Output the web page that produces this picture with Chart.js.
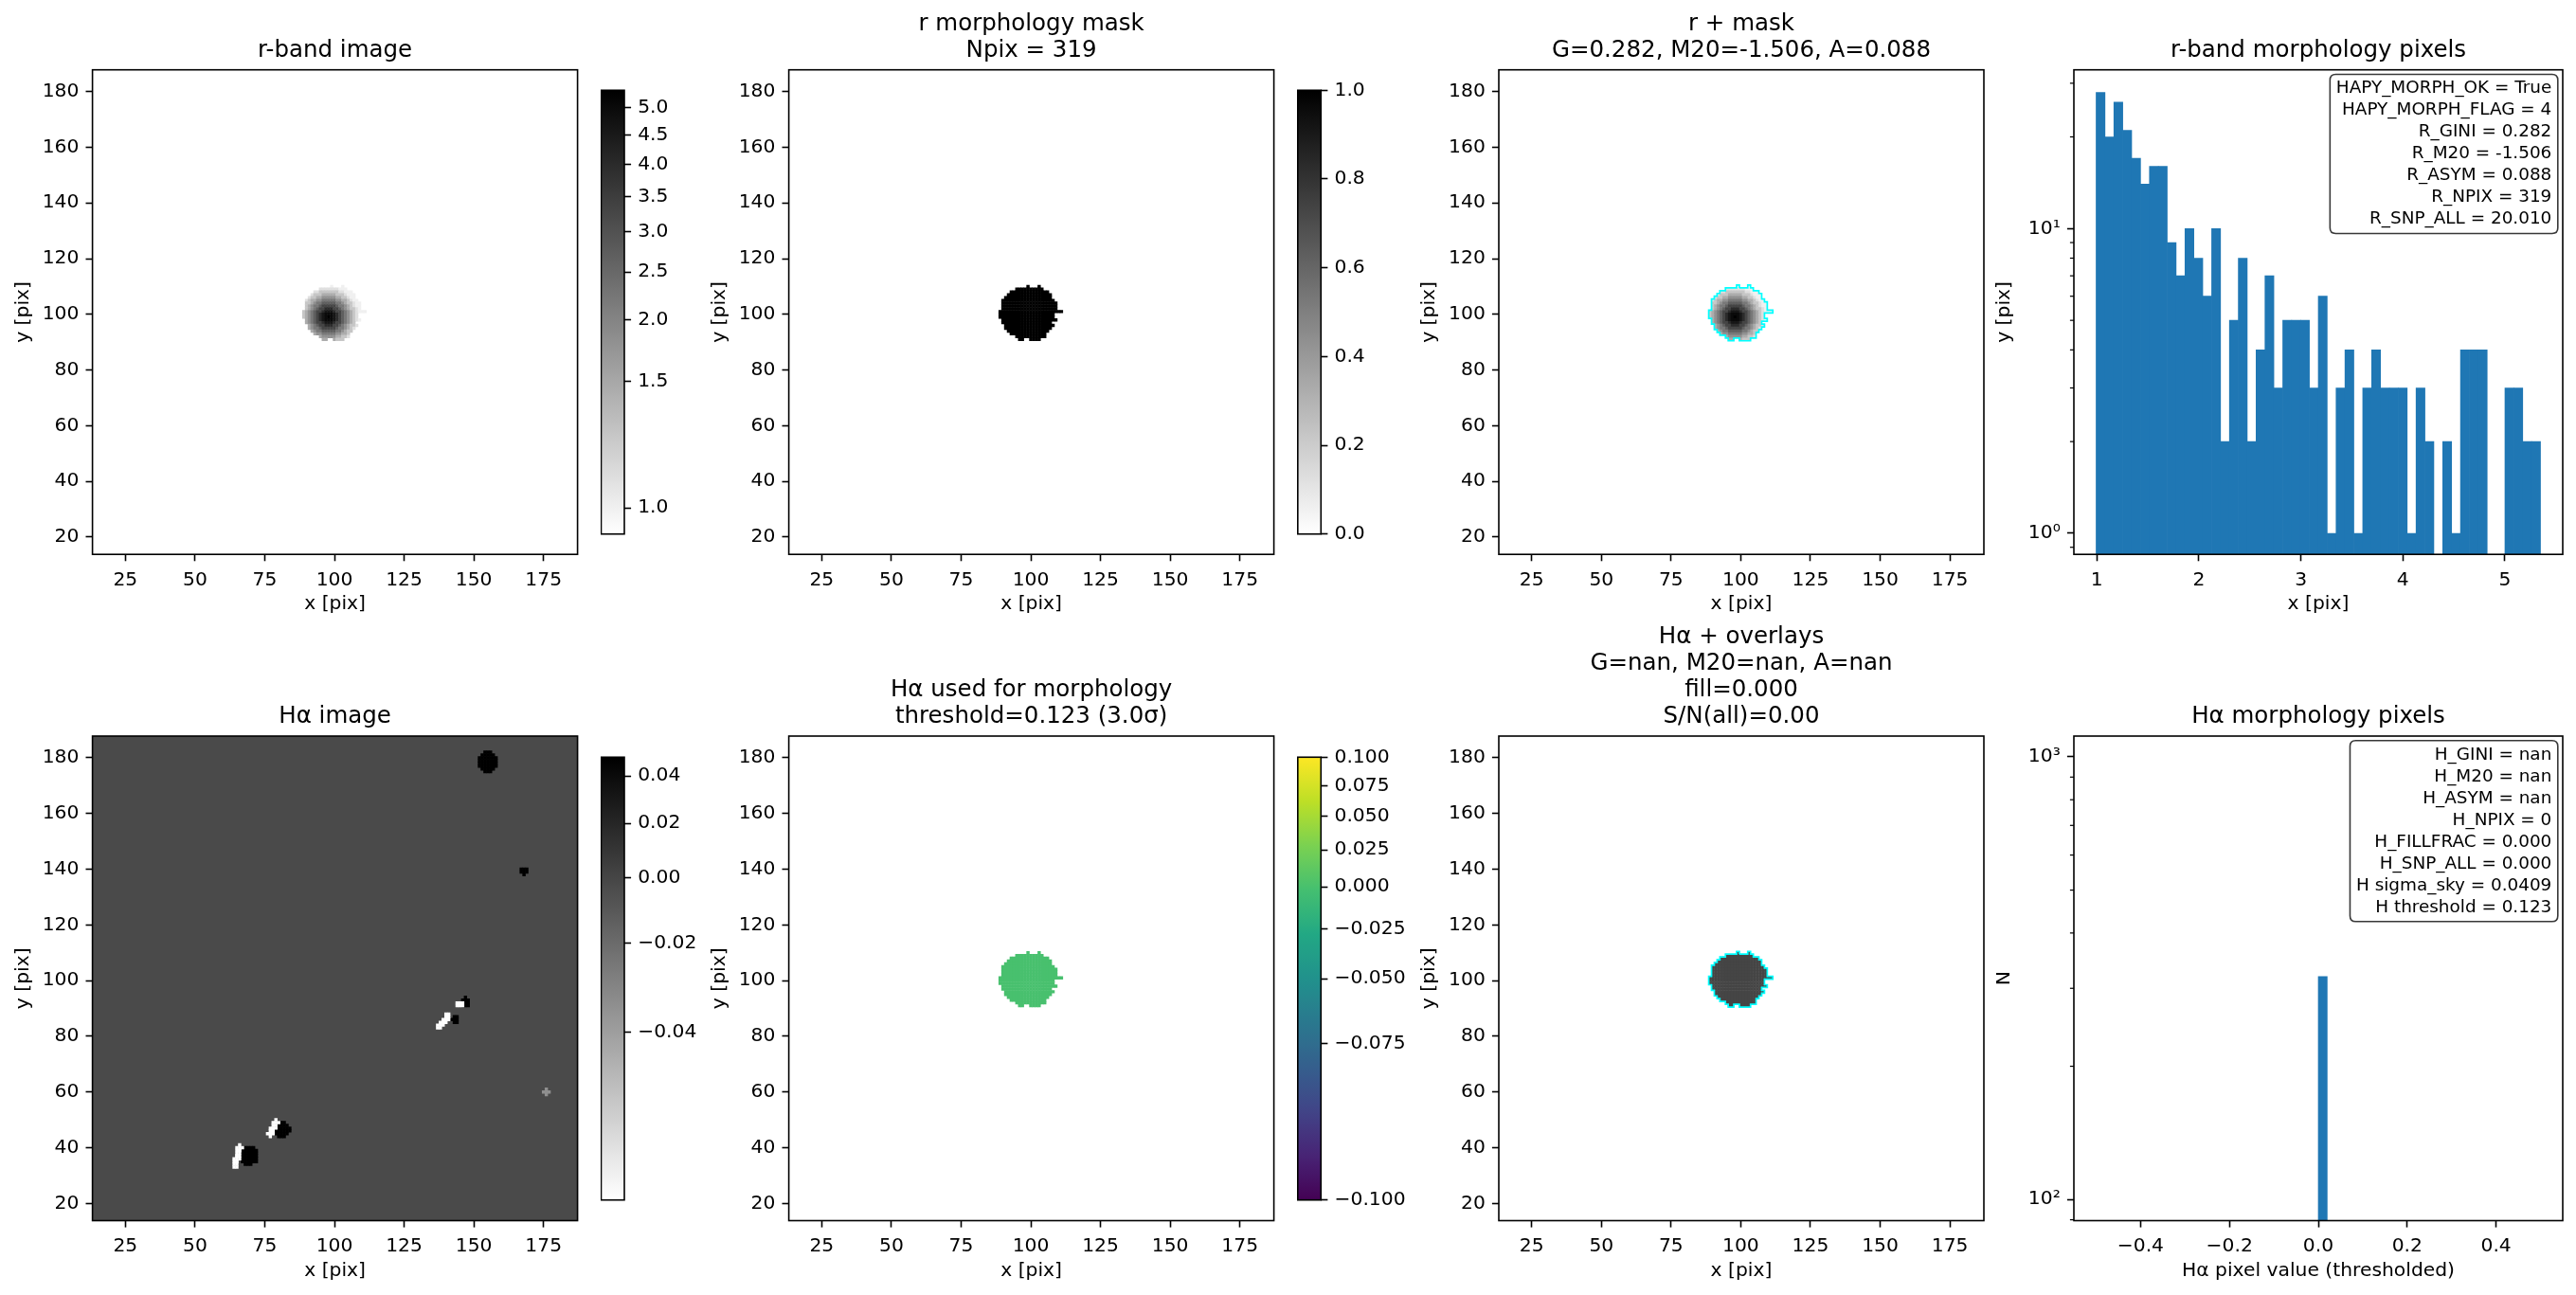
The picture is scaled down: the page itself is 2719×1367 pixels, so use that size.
<!DOCTYPE html>
<html><head><meta charset="utf-8">
<script src="https://cdn.jsdelivr.net/npm/chart.js@4.4.1/dist/chart.umd.min.js"></script>
<style>
html,body{margin:0;padding:0;background:#fff;}
body{width:2719px;height:1367px;position:relative;overflow:hidden;}
</style></head><body>
<script>
// ================= DATA =================
const imgXTicks = [25, 50, 75, 100, 125, 150, 175];
const imgYTicks = [20, 40, 60, 80, 100, 120, 140, 160, 180];
const imgXRange = [13.2, 187.2];
const imgYRange = [13.8, 187.8];

// r-band morphology mask as row spans (y, x0..x1), 319 pixels
const maskRowY  = [110,110,109,108,107,106,105,104,103,102,101,100, 99, 98, 97, 96, 95, 94, 93, 92, 91, 91];
const maskRowX0 = [ 99,103, 95, 93, 92, 91, 90, 90, 90, 90, 89, 89, 89, 90, 90, 91, 91, 92, 93, 95, 96,100];
const maskRowX1 = [ 99,103,104,106,107,107,108,109,109,109,111,108,108,109,107,108,107,106,105,105, 97,103];

// r-band radial profile (value per integer radius from the peak)
const rPeak = [98, 99];
const rProfile = [5.3, 5.0, 4.6, 4.0, 3.3, 2.7, 2.2, 1.8, 1.45, 1.2, 1.05, 1.0, 1.0, 1.0, 1.0];
const rVmin = 0.985, rVmax = 5.333;
const rCbTicks  = [1.0, 1.5, 2.0, 2.5, 3.0, 3.5, 4.0, 4.5, 5.0];
const rCbLabels = ['1.0','1.5','2.0','2.5','3.0','3.5','4.0','4.5','5.0'];

const maskValue = 1;
const maskCbTicks  = [0, 0.2, 0.4, 0.6, 0.8, 1.0];
const maskCbLabels = ['0.0','0.2','0.4','0.6','0.8','1.0'];

// Hα image: sky level + notable features (x, y, radius, value)
const haVmin = -0.0549, haVmax = 0.0486;
const haSkyLevel = -0.003;
const haBlobX = [155, 168, 69.3, 81.2, 147.0, 143.2, 66.0, 65.5, 65.0, 64.5, 79.0, 78.0, 77.0, 145.0, 140.5, 139.0, 137.5, 176.0];
const haBlobY = [178.5, 139.2, 37.3, 46.5, 92.3, 86.0, 40.0, 38.0, 36.0, 34.0, 49.0, 47.0, 45.0, 91.5, 87.0, 85.0, 83.5, 60.0];
const haBlobR = [3.4, 1.3, 3.3, 2.7, 1.6, 1.3, 1.0, 1.0, 1.0, 1.0, 1.0, 1.0, 1.0, 0.9, 0.9, 0.9, 0.9, 0.9];
const haBlobV = [0.06, 0.05, 0.06, 0.06, 0.05, 0.05, -0.07, -0.07, -0.07, -0.07, -0.07, -0.07, -0.07, -0.06, -0.06, -0.07, -0.06, -0.035];
const haCbTicks  = [-0.04, -0.02, 0.00, 0.02, 0.04];
const haCbLabels = ['\u22120.04','\u22120.02','0.00','0.02','0.04'];
const haMaskLevel = 0.0;

// Hα used for morphology (thresholded -> 0 everywhere in mask)
const morphVmin = -0.1, morphVmax = 0.1;
const morphValue = 0.0;
const morphCbTicks  = [-0.1, -0.075, -0.05, -0.025, 0.0, 0.025, 0.05, 0.075, 0.1];
const morphCbLabels = ['\u22120.100','\u22120.075','\u22120.050','\u22120.025','0.000','0.025','0.050','0.075','0.100'];

// r-band morphology pixel histogram (50 bins)
const rHistEdges = [0.993, 5.349];
const rHistCounts = [28,20,26,21,17,14,16,16,9,7,10,8,6,10,2,5,8,2,4,7,3,5,5,5,3,6,1,3,4,1,3,4,3,3,3,1,3,2,0,2,1,4,4,4,0,0,3,3,2,2];
const rHistXRange = [0.775, 5.567];
const rHistYRange = [0.853, 33.2];
const rHistXTicks = [1, 2, 3, 4, 5];
const rHistXLabels = ['1','2','3','4','5'];
const rHistYTicks = [1, 10];
const rHistYLabels = ['10\u2070','10\u00b9'];
const rHistYMinor = [0.9, 2, 3, 4, 5, 6, 7, 8, 9, 20, 30];

// Hα morphology pixel histogram (50 bins)
const haHistEdges = [-0.5, 0.5];
const haHistCounts = [0,0,0,0,0,0,0,0,0,0,0,0,0,0,0,0,0,0,0,0,0,0,0,0,0,319,0,0,0,0,0,0,0,0,0,0,0,0,0,0,0,0,0,0,0,0,0,0,0,0];
const haHistXRange = [-0.55, 0.55];
const haHistYRange = [89.6, 1114];
const haHistXTicks = [-0.4, -0.2, 0.0, 0.2, 0.4];
const haHistXLabels = ['\u22120.4','\u22120.2','0.0','0.2','0.4'];
const haHistYTicks = [100, 1000];
const haHistYLabels = ['10\u00b2','10\u00b3'];
const haHistYMinor = [90, 200, 300, 400, 500, 600, 700, 800, 900];

const rStatsLines = ['HAPY_MORPH_OK = True','HAPY_MORPH_FLAG = 4','R_GINI = 0.282','R_M20 = -1.506','R_ASYM = 0.088','R_NPIX = 319','R_SNP_ALL = 20.010'];
const haStatsLines = ['H_GINI = nan','H_M20 = nan','H_ASYM = nan','H_NPIX = 0','H_FILLFRAC = 0.000','H_SNP_ALL = 0.000','H sigma_sky = 0.0409','H threshold = 0.123'];

const titles = [
  ['r-band image'],
  ['r morphology mask', 'Npix = 319'],
  ['r + mask', 'G=0.282, M20=-1.506, A=0.088'],
  ['r-band morphology pixels'],
  ['H\u03b1 image'],
  ['H\u03b1 used for morphology', 'threshold=0.123 (3.0\u03c3)'],
  ['H\u03b1 + overlays', 'G=nan, M20=nan, A=nan', 'fill=0.000', 'S/N(all)=0.00'],
  ['H\u03b1 morphology pixels']
];

// ================= LAYOUT / STYLE =================
const FONT = 'DejaVu Sans';
const TICK_PX = 20.3, LABEL_PX = 20.3, TITLE_PX = 24.5, BOX_PX = 18.4;
const WY = 85, HX = 65, PR = 30, WCB = 95;
const TICK_LEN = 7.1, TICK_W = 1.6, MINOR_LEN = 4.1, MINOR_W = 1.2;
const ROW_T = [73.7, 777.0], AX_H = 511.5;
const COL_L = [97.6, 832.6, 1582.0, 2189.0], AX_W = [512, 512, 512, 516];
const CB_L = [634.5, 1369.8], CB_W = 24.5, CB_T = [92.6, 796.0], CB_H = 474;
const TITLE_GAP = 20.5, TITLE_LINE = 28;
const HIST_COLOR = '#1f77b4', CONTOUR_COLOR = '#00ffff';

Chart.defaults.font.family = FONT;
Chart.defaults.color = '#000';
Chart.defaults.animation = false;

// ================= HELPERS =================
const clamp01 = f => Math.min(1, Math.max(0, f));
const sqrtNorm = (v, lo, hi) => Math.sqrt(clamp01((v - lo) / (hi - lo)));
const linNorm = (v, lo, hi) => clamp01((v - lo) / (hi - lo));
function grayR(f) { const g = Math.round(255 * (1 - clamp01(f))); return `rgb(${g},${g},${g})`; }
const viridisStops = ['#440154','#482475','#414487','#355f8d','#2a788e','#21918c','#22a884','#44bf70','#7ad151','#bddf26','#fde725'];
const hexRgb = h => [parseInt(h.slice(1,3),16), parseInt(h.slice(3,5),16), parseInt(h.slice(5,7),16)];
function viridis(f) {
  f = clamp01(f); const p = f * 10; const i = Math.min(9, Math.floor(p)); const t = p - i;
  const a = hexRgb(viridisStops[i]), b = hexRgb(viridisStops[i + 1]);
  return `rgb(${Math.round(a[0]+(b[0]-a[0])*t)},${Math.round(a[1]+(b[1]-a[1])*t)},${Math.round(a[2]+(b[2]-a[2])*t)})`;
}

// mask cells
const maskCells = [];
maskRowY.forEach((y, k) => { for (let x = maskRowX0[k]; x <= maskRowX1[k]; x++) maskCells.push({x, y}); });

const rCells = maskCells.map(c => {
  const d = Math.round(Math.hypot(c.x - rPeak[0], c.y - rPeak[1]));
  return {x: c.x, y: c.y, v: rProfile[Math.min(d, rProfile.length - 1)]};
});
const maskValCells = maskCells.map(c => ({x: c.x, y: c.y, v: maskValue}));
const morphCells = maskCells.map(c => ({x: c.x, y: c.y, v: morphValue}));
const haMaskCells = maskCells.map(c => ({x: c.x, y: c.y, v: haMaskLevel}));

const haBlobCells = [];
haBlobX.forEach((bx, k) => {
  const r = haBlobR[k], by = haBlobY[k];
  for (let x = Math.floor(bx - r); x <= Math.ceil(bx + r); x++)
    for (let y = Math.floor(by - r); y <= Math.ceil(by + r); y++)
      if (Math.hypot(x - bx, y - by) <= r + 0.25) haBlobCells.push({x, y, v: haBlobV[k]});
});

function maskOutline(cells) {
  const set = new Set(cells.map(c => c.x + ',' + c.y));
  const has = (x, y) => set.has(x + ',' + y);
  const edges = new Map();
  const add = (x1, y1, x2, y2) => { const k = x1 + ',' + y1; if (!edges.has(k)) edges.set(k, []); edges.get(k).push([x2, y2]); };
  for (const c of cells) {
    const x0 = c.x - 0.5, x1 = c.x + 0.5, y0 = c.y - 0.5, y1 = c.y + 0.5;
    if (!has(c.x, c.y - 1)) add(x0, y0, x1, y0);
    if (!has(c.x + 1, c.y)) add(x1, y0, x1, y1);
    if (!has(c.x, c.y + 1)) add(x1, y1, x0, y1);
    if (!has(c.x - 1, c.y)) add(x0, y1, x0, y0);
  }
  const pts = [];
  while (edges.size) {
    const k = edges.keys().next().value;
    const [sx, sy] = k.split(',').map(Number);
    pts.push({x: sx, y: sy});
    let cx = sx, cy = sy;
    for (let guard = 0; guard < 100000; guard++) {
      const key = cx + ',' + cy; const l = edges.get(key);
      if (!l || !l.length) break;
      const [nx, ny] = l.shift(); if (!l.length) edges.delete(key);
      pts.push({x: nx, y: ny}); cx = nx; cy = ny;
    }
    pts.push({x: cx, y: null});
  }
  return pts;
}
const outlinePts = maskOutline(maskCells);

function cellRadius(ctx) {
  const s = ctx.chart.scales.x;
  if (!s) return 1;
  const px = Math.abs(s.getPixelForValue(1) - s.getPixelForValue(0));
  return (px + 0.5) / Math.SQRT2;
}
function cellDataset(cells, colorFn) {
  return { type: 'scatter', data: cells, pointStyle: 'rect', pointRadius: cellRadius, pointHoverRadius: cellRadius,
    pointBorderWidth: 0, pointBackgroundColor: ctx => colorFn(ctx.raw.v), order: 2 };
}
function contourDataset() {
  return { type: 'line', data: outlinePts, borderColor: CONTOUR_COLOR, borderWidth: 1.7, pointRadius: 0,
    fill: false, spanGaps: false, tension: 0, borderJoinStyle: 'miter', order: 1 };
}

// decoration plugin: frame, titles, minor ticks, stats box, image background
const deco = {
  id: 'deco',
  beforeDatasetsDraw(chart, args, o) {
    if (!o.bgColor) return;
    const ctx = chart.ctx, a = chart.chartArea, xs = chart.scales.x, ys = chart.scales.y;
    const x0 = xs.getPixelForValue(o.bgExtent[0]), x1 = xs.getPixelForValue(o.bgExtent[1]);
    const y0 = ys.getPixelForValue(o.bgExtent[2]), y1 = ys.getPixelForValue(o.bgExtent[3]);
    ctx.save(); ctx.beginPath(); ctx.rect(a.left, a.top, a.right - a.left, a.bottom - a.top); ctx.clip();
    ctx.fillStyle = o.bgColor; ctx.fillRect(Math.min(x0, x1), Math.min(y0, y1), Math.abs(x1 - x0), Math.abs(y1 - y0));
    ctx.restore();
  },
  afterDraw(chart, args, o) {
    const ctx = chart.ctx, a = chart.chartArea;
    ctx.save();
    if (o.minorY) {
      const ys = chart.scales.y;
      ctx.strokeStyle = '#000'; ctx.lineWidth = MINOR_W;
      for (const v of o.minorY) {
        const y = ys.getPixelForValue(v);
        if (y < a.top - 0.5 || y > a.bottom + 0.5) continue;
        ctx.beginPath(); ctx.moveTo(a.left - MINOR_LEN, y); ctx.lineTo(a.left, y); ctx.stroke();
      }
    }
    if (o.stats) {
      ctx.font = `${BOX_PX}px "${FONT}"`;
      const w = Math.max(...o.stats.map(l => ctx.measureText(l).width)) + 13;
      const lh = 23, h = o.stats.length * lh + 7;
      const right = a.right - 5.2, top = a.top + 4.8, left = right - w, r = 6;
      ctx.beginPath();
      ctx.moveTo(left + r, top); ctx.lineTo(right - r, top); ctx.quadraticCurveTo(right, top, right, top + r);
      ctx.lineTo(right, top + h - r); ctx.quadraticCurveTo(right, top + h, right - r, top + h);
      ctx.lineTo(left + r, top + h); ctx.quadraticCurveTo(left, top + h, left, top + h - r);
      ctx.lineTo(left, top + r); ctx.quadraticCurveTo(left, top, left + r, top); ctx.closePath();
      ctx.fillStyle = 'rgba(255,255,255,0.85)'; ctx.fill();
      ctx.strokeStyle = '#383838'; ctx.lineWidth = 1.6; ctx.stroke();
      ctx.fillStyle = '#000'; ctx.textAlign = 'right'; ctx.textBaseline = 'middle';
      o.stats.forEach((l, i) => ctx.fillText(l, right - 6.5, top + 3.5 + lh / 2 + i * lh));
    }
    ctx.strokeStyle = '#000'; ctx.lineWidth = 1.6;
    ctx.strokeRect(a.left, a.top, a.right - a.left, a.bottom - a.top);
    if (o.title) {
      ctx.font = `${TITLE_PX}px "${FONT}"`; ctx.fillStyle = '#000'; ctx.textAlign = 'center'; ctx.textBaseline = 'middle';
      const n = o.title.length, cx = (a.left + a.right) / 2;
      o.title.forEach((t, i) => ctx.fillText(t, cx, a.top - TITLE_GAP - TITLE_LINE * (n - 1 - i)));
    }
    ctx.restore();
  }
};
Chart.register(deco);

function place(left, top, w, h) {
  const c = document.createElement('canvas');
  c.width = w; c.height = h;
  c.style.cssText = `position:absolute;left:${left}px;top:${top}px;width:${w}px;height:${h}px;`;
  document.body.appendChild(c);
  return c;
}
function panelFrame(col, row, nTitle) {
  const axL = COL_L[col], axT = ROW_T[row], axW = AX_W[col];
  const padTopWanted = TITLE_LINE * nTitle + 12;
  const cl = Math.floor(axL - WY), ct = Math.floor(axT - padTopWanted);
  const pl = axL - WY - cl, pt = axT - ct;
  const cw = Math.ceil(pl + WY + axW + PR), ch = Math.ceil(pt + AX_H + HX + 4);
  return { cl, ct, cw, ch, padding: { left: pl, top: pt, right: cw - (pl + WY + axW), bottom: ch - (pt + AX_H + HX) } };
}
const gridOpts = () => ({ display: true, drawOnChartArea: false, drawTicks: true, tickLength: TICK_LEN, tickWidth: TICK_W, tickColor: '#000', offset: false });
const tickOpts = (labels, pad) => ({ autoSkip: false, maxRotation: 0, minRotation: 0, padding: pad, color: '#000',
  font: { family: FONT, size: TICK_PX }, callback: (v, i) => labels[i] });
const axTitle = t => ({ display: true, text: t, color: '#000', font: { family: FONT, size: LABEL_PX, lineHeight: 1.2 }, padding: 0 });

function xScale(type, range, ticks, labels, title) {
  return { type, min: range[0], max: range[1], offset: false,
    afterBuildTicks: s => { s.ticks = ticks.map(v => ({ value: v })); },
    afterFit: s => { s.height = HX; },
    ticks: tickOpts(labels, 8), grid: gridOpts(), border: { display: false }, title: axTitle(title) };
}
function yScale(type, range, ticks, labels, title) {
  return { type, min: range[0], max: range[1], offset: false,
    afterBuildTicks: s => { s.ticks = ticks.map(v => ({ value: v })); },
    afterFit: s => { s.width = WY; },
    ticks: tickOpts(labels, 7.1), grid: gridOpts(), border: { display: false }, title: axTitle(title) };
}
const imgXLabels = imgXTicks.map(String), imgYLabels = imgYTicks.map(String);

function imagePanel(col, row, idx, datasets, extraDeco) {
  const f = panelFrame(col, row, titles[idx].length);
  const cv = place(f.cl, f.ct, f.cw, f.ch);
  new Chart(cv, {
    type: 'scatter',
    data: { datasets },
    options: {
      responsive: false, animation: false, events: [],
      layout: { padding: f.padding, autoPadding: false },
      scales: {
        x: xScale('linear', imgXRange, imgXTicks, imgXLabels, 'x [pix]'),
        y: yScale('linear', imgYRange, imgYTicks, imgYLabels, 'y [pix]')
      },
      plugins: { legend: { display: false }, tooltip: { enabled: false },
        deco: Object.assign({ title: titles[idx] }, extraDeco || {}) }
    }
  });
}

function histPanel(col, row, idx, edges, counts, xr, yr, xt, xl, yt, yl, minor, xTitle, yTitle, stats) {
  const f = panelFrame(col, row, titles[idx].length);
  const cv = place(f.cl, f.ct, f.cw, f.ch);
  const w = (edges[1] - edges[0]) / counts.length;
  const data = counts.map((c, i) => ({ x: edges[0] + (i + 0.5) * w, y: c > 0 ? c : null }));
  new Chart(cv, {
    type: 'bar',
    data: { datasets: [{ data, backgroundColor: ctx => (ctx.raw && ctx.raw.y ? HIST_COLOR : 'rgba(0,0,0,0)'),
      borderWidth: 0, barPercentage: 1, categoryPercentage: 1 }] },
    options: {
      responsive: false, animation: false, events: [],
      layout: { padding: f.padding, autoPadding: false },
      scales: {
        x: xScale('linear', xr, xt, xl, xTitle),
        y: yScale('logarithmic', yr, yt, yl, yTitle)
      },
      plugins: { legend: { display: false }, tooltip: { enabled: false },
        deco: { title: titles[idx], minorY: minor, stats } }
    }
  });
}

function colorbar(cbIdx, row, cmap, ticks, labels) {
  const left = CB_L[cbIdx], top = CB_T[row];
  const cl = Math.floor(left), ct = Math.floor(top - 16);
  const pl = left - cl, pt = top - ct;
  const cw = Math.ceil(pl + CB_W + WCB), ch = Math.ceil(pt + CB_H + 16);
  const cv = place(cl, ct, cw, ch);
  const grad = ctx => {
    const a = ctx.chart.chartArea; if (!a) return 'rgba(0,0,0,0)';
    const g = ctx.chart.ctx.createLinearGradient(0, a.bottom, 0, a.top);
    for (let i = 0; i <= 40; i++) g.addColorStop(i / 40, cmap(i / 40));
    return g;
  };
  new Chart(cv, {
    type: 'bar',
    data: { labels: ['cb'], datasets: [{ data: [[0, 1]], backgroundColor: grad, borderWidth: 0, barPercentage: 1, categoryPercentage: 1 }] },
    options: {
      responsive: false, animation: false, events: [],
      layout: { padding: { left: pl, top: pt, right: cw - pl - CB_W - WCB, bottom: ch - pt - CB_H }, autoPadding: false },
      scales: {
        x: { display: false, offset: true },
        y: { position: 'right', min: 0, max: 1,
          afterBuildTicks: s => { s.ticks = ticks.map(v => ({ value: v })); },
          afterFit: s => { s.width = WCB; },
          ticks: tickOpts(labels, 7.1), grid: gridOpts(), border: { display: false } }
      },
      plugins: { legend: { display: false }, tooltip: { enabled: false }, deco: {} }
    }
  });
}

// ================= BUILD =================
const rColor = v => grayR(sqrtNorm(v, rVmin, rVmax));
const maskColor = v => grayR(linNorm(v, 0, 1));
const haColor = v => grayR(sqrtNorm(v, haVmin, haVmax));
const morphColor = v => viridis(sqrtNorm(v, morphVmin, morphVmax));

// Row 1
imagePanel(0, 0, 0, [cellDataset(rCells, rColor)]);
colorbar(0, 0, f => grayR(f), rCbTicks.map(v => sqrtNorm(v, rVmin, rVmax)), rCbLabels);
imagePanel(1, 0, 1, [cellDataset(maskValCells, maskColor)]);
colorbar(1, 0, f => grayR(f), maskCbTicks.map(v => linNorm(v, 0, 1)), maskCbLabels);
imagePanel(2, 0, 2, [cellDataset(rCells, rColor), contourDataset()]);
histPanel(3, 0, 3, rHistEdges, rHistCounts, rHistXRange, rHistYRange, rHistXTicks, rHistXLabels,
  rHistYTicks, rHistYLabels, rHistYMinor, 'x [pix]', 'y [pix]', rStatsLines);

// Row 2
imagePanel(0, 1, 4, [cellDataset(haBlobCells, haColor)],
  { bgColor: haColor(haSkyLevel), bgExtent: [imgXRange[0], imgXRange[1], imgYRange[0], imgYRange[1]] });
colorbar(0, 1, f => grayR(f), haCbTicks.map(v => sqrtNorm(v, haVmin, haVmax)), haCbLabels);
imagePanel(1, 1, 5, [cellDataset(morphCells, morphColor)]);
colorbar(1, 1, f => viridis(f), morphCbTicks.map(v => sqrtNorm(v, morphVmin, morphVmax)), morphCbLabels);
imagePanel(2, 1, 6, [cellDataset(haMaskCells, haColor), contourDataset()]);
histPanel(3, 1, 7, haHistEdges, haHistCounts, haHistXRange, haHistYRange, haHistXTicks, haHistXLabels,
  haHistYTicks, haHistYLabels, haHistYMinor, 'H\u03b1 pixel value (thresholded)', 'N', haStatsLines);
</script>
</body></html>
